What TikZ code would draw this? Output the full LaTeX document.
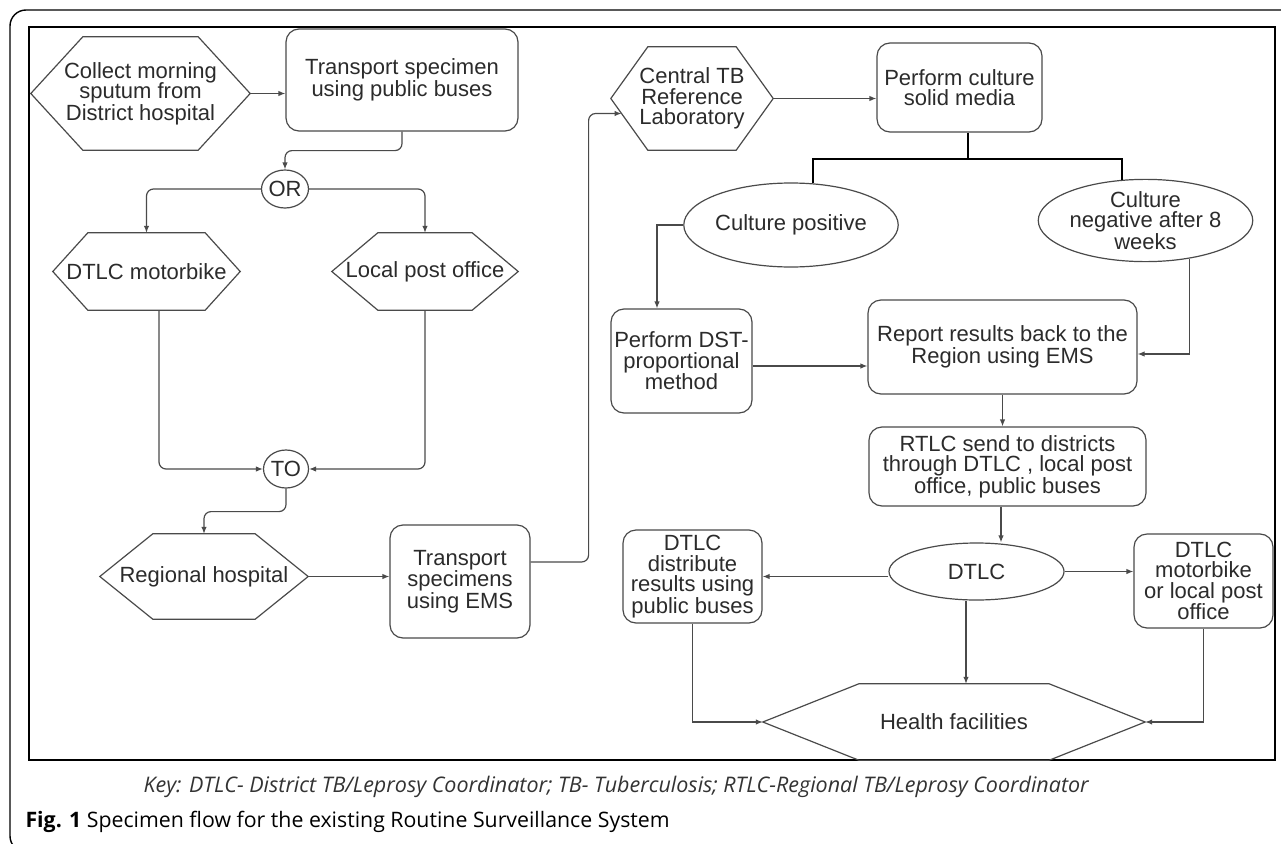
\documentclass[tikz,border=0pt]{standalone}
\usepackage{fontspec}
\setmainfont{Liberation Sans}
\newfontfamily\capfont{Open Sans}
\usepackage{tikz}
\usetikzlibrary{positioning,arrows.meta,shapes.geometric,calc}
\definecolor{line1}{HTML}{4A4A4A}
\definecolor{text1}{HTML}{2B2B2B}
\definecolor{key1}{HTML}{333333}
\newcommand{\diagfont}{\fontsize{22}{20.5}\selectfont}

\begin{document}
\begin{tikzpicture}[x=1pt, y=-1pt,
    box/.style={draw=line1, line width=1.2pt, rounded corners=13pt,
                inner sep=0pt, align=center, text=text1, font=\diagfont},
    hexa/.style={inner sep=0pt, align=center, text=text1, font=\diagfont},
    oval/.style={draw=line1, ellipse, line width=1.2pt, inner sep=0pt,
                 align=center, text=text1, font=\diagfont},
    flow/.style={draw=line1, line width=1.2pt,
                 -{Latex[length=7pt,width=5.5pt]}},
    roundpath/.style={rounded corners=7pt},
    bracket/.style={draw=black, line width=2.2pt},
]
\useasboundingbox (0,0) rectangle (1281,843);

% frames
\draw[line width=1.4pt, rounded corners=16pt] (1295,10) -- (10,10) -- (10,852) -- (40,852);
\draw[line width=1.4pt] (29,27) rectangle (1275,760);

% left column
\node[hexa, minimum width=219pt, minimum height=113pt] (collect) at (140.5,93.5)
    {Collect morning\\sputum from\\District hospital};
\node[box, minimum width=232pt, minimum height=102pt] (bus) at (402,80)
    {Transport specimen\\using public buses};
\node[oval, minimum width=47pt, minimum height=38pt] (orn) at (285,189) {OR};
\node[hexa, minimum width=187pt, minimum height=77pt] (motor) at (146.5,271.5)
    {DTLC motorbike};
\node[hexa, minimum width=186pt, minimum height=77pt] (post) at (425,271.5)
    {Local post office};
\node[oval, minimum width=45pt, minimum height=38pt] (to) at (286,469) {TO};
\node[hexa, minimum width=208pt, minimum height=85pt] (regional) at (204,576.5)
    {Regional hospital};
\node[box, minimum width=140pt, minimum height=113pt] (ems) at (460,581.5)
    {Transport\\specimens\\using EMS};

% laboratory
\node[hexa, minimum width=162pt, minimum height=103pt] (central) at (692,98.5)
    {Central TB\\Reference\\Laboratory};
\node[box, minimum width=165pt, minimum height=89pt] (culture) at (959.5,87.5)
    {Perform culture\\solid media};
\node[oval, minimum width=152pt, minimum height=84pt] (pos) at (791,225)
    {Culture positive};
\node[oval, minimum width=153pt, minimum height=75pt] (neg) at (1145.5,220.5)
    {Culture\\negative after 8\\weeks};
\node[box, minimum width=141pt, minimum height=104pt] (dst) at (681.5,361)
    {Perform DST-\\proportional\\method};
\node[box, minimum width=269pt, minimum height=94pt] (report) at (1002.5,347)
    {Report results back to the\\Region using EMS};
\node[box, minimum width=277pt, minimum height=79pt] (rtlc) at (1007.5,466.5)
    {RTLC send to districts\\through DTLC , local post\\office, public buses};
\node[oval, minimum width=175pt, minimum height=57pt] (dtlc) at (976.5,571.5) {DTLC};
\node[box, minimum width=139pt, minimum height=93pt] (distrib) at (692.5,576.5)
    {DTLC\\distribute\\results using\\public buses};
\node[box, minimum width=139pt, minimum height=94pt] (motorpost) at (1203.5,581)
    {DTLC\\motorbike\\or local post\\office};
\node[hexa, minimum width=382pt, minimum height=76pt] (health) at (954,722)
    {Health facilities};

% hexagon outlines
\foreach \n/\d in {collect/52pt,motor/35pt,post/46pt,regional/53pt,central/37pt,health/96pt}
  \draw[draw=line1, line width=1.2pt] (\n.west) -- ([xshift=\d]\n.north west)
    -- ([xshift=-\d]\n.north east) -- (\n.east) -- ([xshift=-\d]\n.south east)
    -- ([xshift=\d]\n.south west) -- cycle;

% connectors
\draw[flow] (collect.east) -- (collect.east -| bus.west);
\draw[flow, roundpath] (bus.south) -- ++(0,19) -| (orn.north);
\draw[flow, roundpath] (orn.west) -| (motor.north);
\draw[flow, roundpath] (orn.east) -| (post.north);
\draw[flow, roundpath] ([xshift=12.5pt]motor.south) |- (to.west);
\draw[flow, roundpath] (post.south) |- (to.east);
\draw[flow, roundpath] (to.south) -- ++(0,23) -| (regional.north);
\draw[flow] (regional.east) -- (regional.east -| ems.west);
\coordinate (cin) at ($(central.west)!0.29!([xshift=37pt]central.south west)$);
\draw[flow, roundpath] ([yshift=19.5pt]ems.east) -- ++(58,0) |- (cin);
\draw[flow] (central.east) -- (central.east -| culture.west);

\coordinate (split) at ($(culture.south)+(8.5,26)$);
\draw[bracket] ([xshift=8.5pt]culture.south) -- (split);
\draw[bracket] (pos.62.5) |- (split) -| (neg.120.8);

\draw[flow] (pos.west) -| ([xshift=-24.5pt]dst.north);
\draw[flow] ([yshift=-5pt]dst.east) coordinate (d1) -- (d1 -| report.west);
\draw[flow] (neg.-41.6) coordinate (n1) |- ([yshift=-7pt]report.east);
\draw[flow] (report.south) -- (report.south |- rtlc.north);
\draw[flow] ([xshift=-6.5pt]rtlc.south) coordinate (r1) -- (r1 |- dtlc.north);
\draw[flow] ([yshift=-5pt]dtlc.west) coordinate (t1) -- (t1 -| distrib.east);
\draw[flow] (dtlc.east) -- (dtlc.east -| motorpost.west);
\draw[flow] ([xshift=-10.5pt]dtlc.south) coordinate (t2) -- (t2 |- health.north);
\draw[flow] (distrib.south) |- (health.west);
\draw[flow] (motorpost.south) |- (health.east);

% key and caption
\node[anchor=west, text=key1, font=\capfont\itshape\fontsize{21.5}{24}\selectfont] (key) at (140,787)
    {Key: DTLC- District TB/Leprosy Coordinator; TB- Tuberculosis; RTLC-Regional TB/Leprosy Coordinator};
\node[anchor=west, font=\capfont\fontsize{21.3}{24}\selectfont] (cap) at (22,822)
    {\textbf{Fig. 1} Specimen flow for the existing Routine Surveillance System};
\end{tikzpicture}
\end{document}
